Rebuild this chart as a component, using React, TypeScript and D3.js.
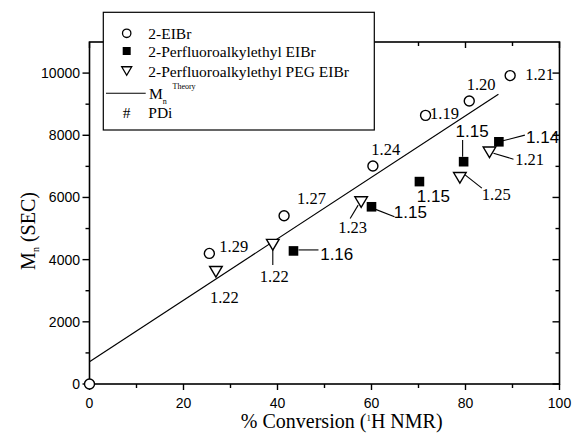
import * as d3 from "d3";

// % conversion vs Mn(SEC)
const eibrConv = [0, 25.5, 41.4, 60.3, 71.5, 80.8, 89.5];
const eibrMn = [0, 4200, 5410, 7010, 8640, 9100, 9920];
const eibrPdi = ["", "1.29", "1.27", "1.24", "1.19", "1.20", "1.21"];

const pfConv = [43.4, 60.0, 70.2, 79.6, 87.1];
const pfMn = [4280, 5700, 6510, 7150, 7790];
const pfPdi = ["1.16", "1.15", "1.15", "1.15", "1.14"];

const pegConv = [26.9, 39.0, 57.8, 78.8, 85.1];
const pegMn = [3610, 4480, 5850, 6630, 7450];
const pegPdi = ["1.22", "1.22", "1.23", "1.25", "1.21"];

const theoryConv = [0, 87];
const theoryMn = [717, 9318];

const xTicks = [0, 20, 40, 60, 80, 100];
const xMinor = [10, 30, 50, 70, 90];
const yTicks = [0, 2000, 4000, 6000, 8000, 10000];
const yMinor = [1000, 3000, 5000, 7000, 9000];

// label placement (px offsets from marker), kept apart from data
type Lab = { dx: number; dy: number; lead?: [number, number, number, number] } | null;
const eibrLab: Lab[] = [
  null,
  { dx: 10, dy: -1.6 },
  { dx: 13, dy: -11.7 },
  { dx: -1.6, dy: -11 },
  { dx: 4.5, dy: 4 },
  { dx: -2.6, dy: -11 },
  { dx: 15, dy: 4.3 },
];
const pfLab: Lab[] = [
  { dx: 26.7, dy: 9, lead: [5, -1, 25, -1] },
  { dx: 22.3, dy: 11.6, lead: [1.6, 1.6, 23, 10] },
  { dx: -2.6, dy: 20 },
  { dx: -8, dy: -25, lead: [-1, -21.7, -1, -5] },
  { dx: 27.2, dy: 1.6, lead: [4, -1, 26, -6.7] },
];
const pegLab: Lab[] = [
  { dx: -6, dy: 31.5 },
  { dx: -13, dy: 37, lead: [0, 5.3, 0, 20.3] },
  { dx: -23, dy: 31.3, lead: [-3, 3, -11, 16.3] },
  { dx: 22, dy: 22, lead: [3, -4.7, 22, 10.3] },
  { dx: 25.7, dy: 12.5, lead: [4, 0.8, 24, 6.8] },
];

const SERIF = "'Liberation Serif', 'Times New Roman', serif";
const SANS = "'Liberation Sans', Arial, sans-serif";

function tri(cx: number, cy: number, w: number, h: number) {
  return `M${cx - w / 2},${cy - h / 2}L${cx + w / 2},${cy - h / 2}L${cx},${cy + h / 2}Z`;
}

export default function App() {
  const width = 572;
  const height = 443;
  const left = 89.5, right = 559.5, top = 42, bottom = 384;

  const x = d3.scaleLinear().domain([0, 100]).range([left, right]);
  const y = d3.scaleLinear().domain([0, 11000]).range([bottom, top]);

  const line = d3.line<number>()
    .x((_, i) => x(theoryConv[i]))
    .y((_, i) => y(theoryMn[i]));

  const leader = (px: number, py: number, l: Lab) =>
    l && l.lead ? (
      <line x1={px + l.lead[0]} y1={py + l.lead[1]} x2={px + l.lead[2]} y2={py + l.lead[3]}
        stroke="#000" strokeWidth={1.1} />
    ) : null;

  return (
    <div style={{ position: "absolute", left: 0, top: 0 }}>
      <svg width={width} height={height} style={{ display: "block", background: "#fff" }}>
        {/* frame */}
        <rect x={left} y={top} width={right - left} height={bottom - top} fill="none" stroke="#000" strokeWidth={1.6} />

        {/* bottom ticks (out) & top ticks (in) */}
        {xTicks.map((t) => (
          <g key={"xt" + t}>
            <line x1={x(t)} x2={x(t)} y1={bottom} y2={bottom + 6} stroke="#000" strokeWidth={1.4} />
            <line x1={x(t)} x2={x(t)} y1={top} y2={top + 6} stroke="#000" strokeWidth={1.4} />
            <text x={x(t)} y={408} textAnchor="middle" fontFamily={SANS} fontSize={14}>{t}</text>
          </g>
        ))}
        {xMinor.map((t) => (
          <g key={"xm" + t}>
            <line x1={x(t)} x2={x(t)} y1={bottom} y2={bottom + 4} stroke="#000" strokeWidth={1.4} />
            <line x1={x(t)} x2={x(t)} y1={top} y2={top + 4} stroke="#000" strokeWidth={1.4} />
          </g>
        ))}

        {/* left ticks (out) & right ticks (in) */}
        {yTicks.map((t) => (
          <g key={"yt" + t}>
            <line x1={left - 7} x2={left} y1={y(t)} y2={y(t)} stroke="#000" strokeWidth={1.4} />
            <line x1={right - 7} x2={right} y1={y(t)} y2={y(t)} stroke="#000" strokeWidth={1.4} />
            <text x={80} y={y(t)} dy="0.35em" textAnchor="end" fontFamily={SANS} fontSize={14}>{t}</text>
          </g>
        ))}
        {yMinor.map((t) => (
          <g key={"ym" + t}>
            <line x1={left - 4} x2={left} y1={y(t)} y2={y(t)} stroke="#000" strokeWidth={1.4} />
            <line x1={right - 4} x2={right} y1={y(t)} y2={y(t)} stroke="#000" strokeWidth={1.4} />
          </g>
        ))}

        {/* theory line */}
        <path d={line(theoryConv) ?? ""} fill="none" stroke="#000" strokeWidth={1.2} />

        {/* leaders */}
        {pfConv.map((c, i) => <g key={"pl" + i}>{leader(x(c), y(pfMn[i]), pfLab[i])}</g>)}
        {pegConv.map((c, i) => <g key={"gl" + i}>{leader(x(c), y(pegMn[i]), pegLab[i])}</g>)}

        {/* markers */}
        {eibrConv.map((c, i) => (
          <circle key={"c" + i} cx={x(c)} cy={y(eibrMn[i])} r={5} fill="#fff" stroke="#000" strokeWidth={1.4} />
        ))}
        {pfConv.map((c, i) => (
          <rect key={"s" + i} x={x(c) - 4.8} y={y(pfMn[i]) - 4.8} width={9.6} height={9.6} fill="#000" />
        ))}
        {pegConv.map((c, i) => (
          <path key={"t" + i} d={tri(x(c), y(pegMn[i]), 12.6, 10.6)} fill="#fff" stroke="#000" strokeWidth={1.4} strokeLinejoin="miter" />
        ))}

        {/* PDI labels */}
        {eibrConv.map((c, i) => {
          const l = eibrLab[i];
          if (!l || !eibrPdi[i]) return null;
          return (
            <text key={"cl" + i} x={x(c) + l.dx} y={y(eibrMn[i]) + l.dy} fontFamily={SERIF} fontSize={16.5}>{eibrPdi[i]}</text>
          );
        })}
        {pfConv.map((c, i) => {
          const l = pfLab[i]!;
          return (
            <text key={"sl" + i} x={x(c) + l.dx} y={y(pfMn[i]) + l.dy} fontFamily={SANS} fontSize={17}>{pfPdi[i]}</text>
          );
        })}
        {pegConv.map((c, i) => {
          const l = pegLab[i]!;
          return (
            <text key={"tl" + i} x={x(c) + l.dx} y={y(pegMn[i]) + l.dy} fontFamily={SERIF} fontSize={16.5}>{pegPdi[i]}</text>
          );
        })}

        {/* legend */}
        <g>
          <rect x={103.3} y={12.3} width={271} height={117.7} fill="#fff" stroke="#000" strokeWidth={1.2} />
          <circle cx={126.7} cy={33.3} r={4.2} fill="#fff" stroke="#000" strokeWidth={1.3} />
          <text x={148.3} y={38.5} fontFamily={SERIF} fontSize={15.5}>2-EIBr</text>
          <rect x={122.7} y={47} width={8} height={8} fill="#000" />
          <text x={148.3} y={56.5} fontFamily={SERIF} fontSize={15.5}>2-Perfluoroalkylethyl EIBr</text>
          <path d={tri(126.7, 71, 10, 8.5)} fill="#fff" stroke="#000" strokeWidth={1.3} />
          <text x={148.3} y={76.5} fontFamily={SERIF} fontSize={15.5}>2-Perfluoroalkylethyl PEG EIBr</text>
          <line x1={106} x2={145.7} y1={93.3} y2={93.3} stroke="#000" strokeWidth={1.1} />
          <text x={149} y={98.5} fontFamily={SERIF} fontSize={15.5}>
            M<tspan fontSize={8} dy={5}>n</tspan>
          </text>
          <text x={172.5} y={88.5} fontFamily={SERIF} fontSize={8}>Theory</text>
          <text x={126.7} y={118} textAnchor="middle" fontFamily={SERIF} fontSize={15.5}>#</text>
          <text x={148.3} y={118} fontFamily={SERIF} fontSize={15.5}>PDi</text>
        </g>

        {/* axis titles */}
        <text x={341.7} y={428} textAnchor="middle" fontFamily={SERIF} fontSize={20}>
          % Conversion (<tspan fontSize={9} dy={-7}>1</tspan><tspan dy={7}>H NMR)</tspan>
        </text>
        <text transform={`translate(35,231) rotate(-90)`} textAnchor="middle" fontFamily={SERIF} fontSize={20}>
          M<tspan fontSize={10} dy={4}>n</tspan><tspan dy={-4}> (SEC)</tspan>
        </text>
      </svg>
    </div>
  );
}
